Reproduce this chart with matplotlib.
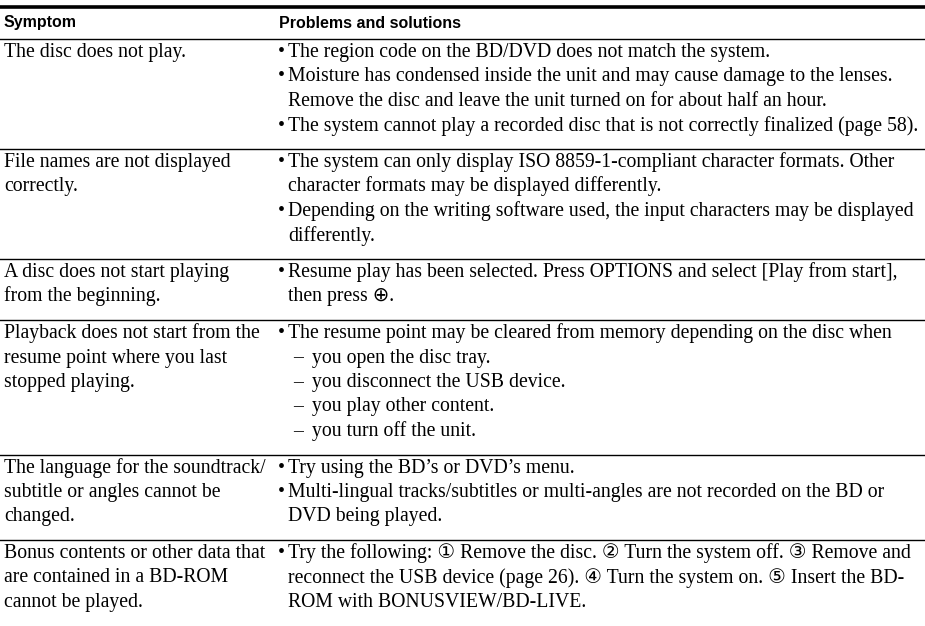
import matplotlib.pyplot as plt

# table content
header = ["Symptom", "Problems and solutions"]

symptoms = [
    ["The disc does not play."],
    ["File names are not displayed", "correctly."],
    ["A disc does not start playing", "from the beginning."],
    ["Playback does not start from the", "resume point where you last", "stopped playing."],
    ["The language for the soundtrack/", "subtitle or angles cannot be", "changed."],
    ["Bonus contents or other data that", "are contained in a BD-ROM", "cannot be played."],
]

# each line: (kind, text)  kind: "b" bullet, "c" continuation, "d" dash item
solutions = [
    [("b", "The region code on the BD/DVD does not match the system."),
     ("b", "Moisture has condensed inside the unit and may cause damage to the lenses."),
     ("c", "Remove the disc and leave the unit turned on for about half an hour."),
     ("b", "The system cannot play a recorded disc that is not correctly finalized (page 58).")],
    [("b", "The system can only display ISO 8859-1-compliant character formats. Other"),
     ("c", "character formats may be displayed differently."),
     ("b", "Depending on the writing software used, the input characters may be displayed"),
     ("c", "differently.")],
    [("b", "Resume play has been selected. Press OPTIONS and select [Play from start],"),
     ("c", "then press \u2295.")],
    [("b", "The resume point may be cleared from memory depending on the disc when"),
     ("d", "you open the disc tray."),
     ("d", "you disconnect the USB device."),
     ("d", "you play other content."),
     ("d", "you turn off the unit.")],
    [("b", "Try using the BD\u2019s or DVD\u2019s menu."),
     ("b", "Multi-lingual tracks/subtitles or multi-angles are not recorded on the BD or"),
     ("c", "DVD being played.")],
    [("b", "Try the following: \u2460 Remove the disc. \u2461 Turn the system off. \u2462 Remove and"),
     ("c", "reconnect the USB device (page 26). \u2463 Turn the system on. \u2464 Insert the BD-"),
     ("c", "ROM with BONUSVIEW/BD-LIVE.")],
]

serif = ["Liberation Serif", "DejaVu Sans", "Noto Sans CJK JP"]
fs = 14.2
step = 24.5     # line pitch in px
first = 18.0    # rule -> first baseline
extra = 12.0    # additional space per row

fig = plt.figure(figsize=(9.25, 6.26), dpi=100)
ax = fig.add_axes([0, 0, 1, 1])
ax.set_xlim(0, 925)
ax.set_ylim(626, 0)
ax.axis("off")

x_left, x_bullet, x_text = 4, 279, 288

ax.axhline(7, color="black", lw=2.6)
for xh, lab in zip([x_left, x_bullet], header):
    ax.text(xh, 27.5, lab, fontsize=11.5, fontweight="bold",
            family="Liberation Sans", va="baseline")

y = 39
for left, right in zip(symptoms, solutions):
    ax.axhline(y, color="black", lw=1.0)
    base = y + first
    for i, line in enumerate(left):
        ax.text(x_left, base + i * step, line, fontsize=fs, family=serif, va="baseline")
    for i, (kind, line) in enumerate(right):
        yy = base + i * step
        if kind == "b":
            ax.text(x_bullet - 1, yy, "\u2022", fontsize=fs, family=serif, va="baseline")
            ax.text(x_text, yy, line, fontsize=fs, family=serif, va="baseline")
        elif kind == "d":
            ax.text(x_text + 5, yy, "\u2013", fontsize=fs, family=serif, va="baseline")
            ax.text(x_text + 24, yy, line, fontsize=fs, family=serif, va="baseline")
        else:
            ax.text(x_text, yy, line, fontsize=fs, family=serif, va="baseline")
    n = max(len(left), len(right))
    y = base + (n - 1) * step + (step - first) + extra

fig.savefig("out.png", dpi=100)
